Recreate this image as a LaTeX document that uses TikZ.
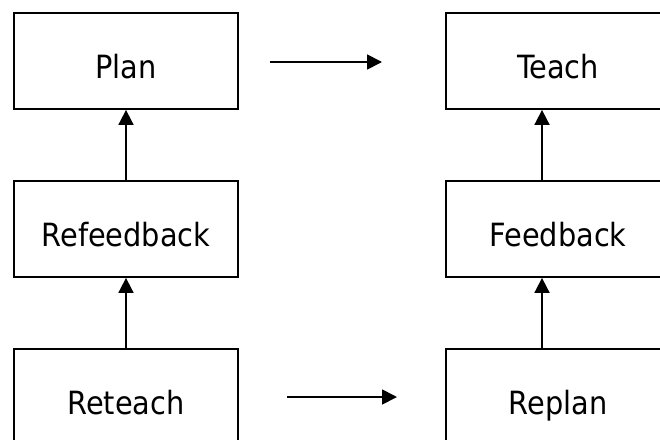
\documentclass[tikz,border=0pt]{standalone}
\usepackage{fontspec}
\setmainfont{DejaVu Sans Condensed}
\usetikzlibrary{arrows.meta}
\begin{document}
\begin{tikzpicture}[x=1pt,y=-1pt,
  stage/.style={draw, line width=1.8pt, minimum width=224pt, minimum height=96pt,
    inner sep=0pt, font=\fontsize{32}{38}\selectfont, text height=34pt, text depth=0pt},
  flow/.style={line width=1.8pt, -{Triangle[length=15pt,width=15pt]}}]
\useasboundingbox (0,0) rectangle (660,439);
\clip (0,0) rectangle (660,439);

% left column
\node[stage] (plan)    at (126,61)  {Plan};
\node[stage] (refeed)  at (126,229) {Refeedback};
\node[stage] (reteach) at (126,397) {Reteach};

% right column
\node[stage] (teach)  at (558,61)  {Teach};
\node[stage] (feed)   at (558,229) {Feedback};
\node[stage] (replan) at (558,397) {Replan};

% vertical links
\coordinate (colR) at (542,0);
\draw[flow] (reteach.north) -- (refeed.south);
\draw[flow] (refeed.north) -- (plan.south);
\draw[flow] (replan.north -| colR) -- (feed.south -| colR);
\draw[flow] (feed.north -| colR) -- (teach.south -| colR);

% horizontal links
\coordinate (topA) at (270,62);
\coordinate (topB) at (382,62);
\coordinate (botA) at (287,397);
\coordinate (botB) at (397,397);
\draw[flow] (topA) -- (topB);
\draw[flow] (botA) -- (botB);
\end{tikzpicture}
\end{document}
